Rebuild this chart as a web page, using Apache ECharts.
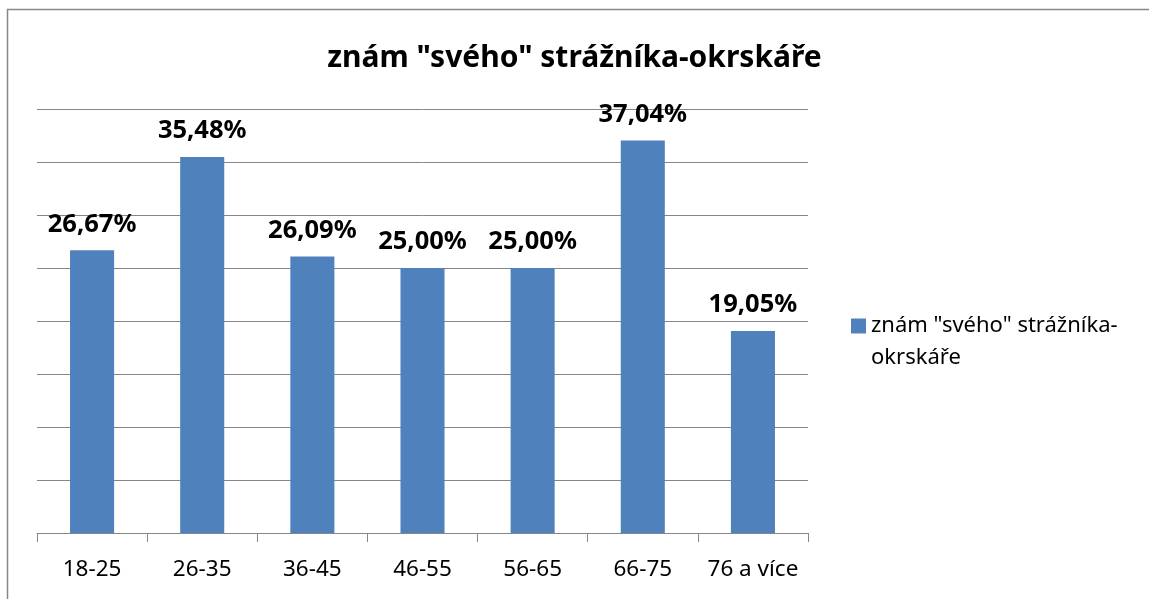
<!DOCTYPE html>
<html>
<head>
<meta charset="utf-8">
<script src="https://cdn.jsdelivr.net/npm/echarts@6/dist/echarts.min.js"></script>
<style>html,body{margin:0;padding:0;background:#fff}#c{width:1149px;height:599px}</style>
</head>
<body>
<div id="c"></div>
<script>
var titleText = 'znám "svého" strážníka-okrskáře';
var seriesName = 'znám "svého" strážníka-okrskáře';
var legendLines = ['znám "svého" strážníka-', 'okrskáře'];
var categories = ['18-25', '26-35', '36-45', '46-55', '56-65', '66-75', '76 a více'];
var values = [26.67, 35.48, 26.09, 25.00, 25.00, 37.04, 19.05];

var FONT = '"Noto Sans", "DejaVu Sans", sans-serif';
var chart = echarts.init(document.getElementById('c'), null, {renderer: 'canvas'});
chart.setOption({
  animation: false,
  backgroundColor: '#ffffff',
  title: {
    text: titleText,
    left: 'center',
    top: 43,
    padding: 0,
    textStyle: {fontFamily: FONT, fontSize: 30, fontWeight: 'bold', color: '#000'}
  },
  legend: {
    data: [seriesName],
    left: 851,
    top: 278,
    padding: 0,
    icon: 'rect',
    itemWidth: 15,
    itemHeight: 15,
    itemGap: 6,
    formatter: function (n) { return '\n' + legendLines.join('\n'); },
    textStyle: {fontFamily: FONT, fontSize: 22, color: '#000', lineHeight: 32}
  },
  grid: {left: 37, right: 341, top: 109, bottom: 66, containLabel: false},
  xAxis: {
    type: 'category',
    data: categories,
    boundaryGap: true,
    axisLine: {show: true, lineStyle: {color: '#868686', width: 1}},
    axisTick: {show: true, length: 9, lineStyle: {color: '#868686'}},
    axisLabel: {interval: 0, fontFamily: FONT, fontSize: 22.5, color: '#000', margin: 25}
  },
  yAxis: {
    type: 'value',
    min: 0,
    max: 40,
    interval: 5,
    axisLine: {show: false},
    axisTick: {show: false},
    axisLabel: {show: false},
    splitLine: {show: true, lineStyle: {color: '#868686', width: 1}}
  },
  series: [{
    name: seriesName,
    type: 'bar',
    data: values,
    barWidth: '40%',
    itemStyle: {color: '#4F81BD'},
    label: {
      show: true,
      position: 'top',
      distance: 13,
      fontFamily: FONT,
      fontSize: 25.5,
      fontWeight: 'bold',
      color: '#000',
      formatter: function (p) { return p.value.toFixed(2).replace('.', ',') + '%'; }
    }
  }],
  graphic: [{
    type: 'rect',
    silent: true,
    shape: {x: 7.5, y: 9.5, width: 1160, height: 620},
    style: {fill: 'none', stroke: '#878787', lineWidth: 1.5}
  }]
});
</script>
</body>
</html>
